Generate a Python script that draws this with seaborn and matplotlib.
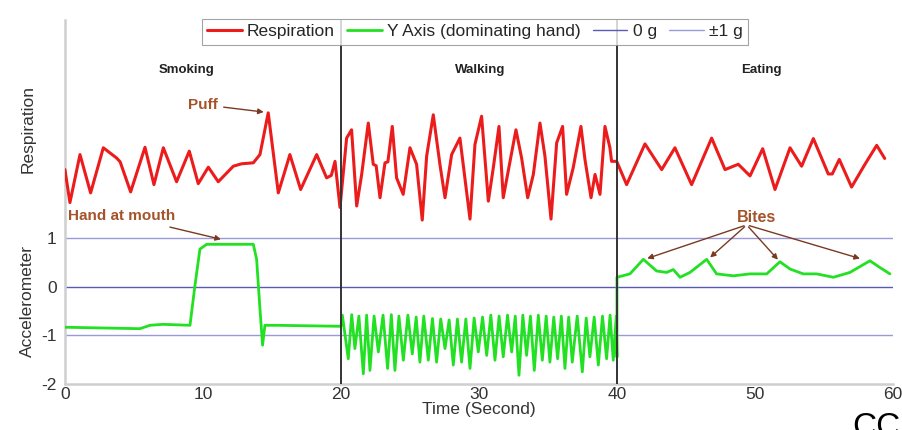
import numpy as np
import pandas as pd
import matplotlib
matplotlib.use("Agg")
import matplotlib.pyplot as plt
import seaborn as sns

# ---------------- data ----------------
# Respiration trace (seconds, plotted on the shared vertical scale, offset above the accelerometer)
resp_t = [0.0, 0.36, 1.09, 1.86, 2.78, 3.74, 4.0, 4.76, 5.80, 6.45, 7.13, 8.09, 9.01, 9.66,
          10.39, 11.11, 12.20, 12.80, 13.65, 14.13, 14.73, 15.46, 16.30, 17.08, 18.24, 18.96,
          19.30, 19.57, 19.93,
          20.41, 20.77, 21.14, 21.50, 21.98, 22.34, 22.55, 22.83, 23.19, 23.40, 23.72, 24.03,
          24.51, 25.00, 25.48, 25.89, 26.21, 26.69, 27.17, 27.54, 28.02, 28.62, 29.35, 29.71,
          30.19, 30.68, 31.04, 31.45, 31.76, 32.12, 32.68, 33.09, 33.53, 33.94, 34.42, 34.78,
          35.22, 35.63, 36.06, 36.35, 36.83, 37.39, 37.68, 38.12, 38.41, 38.77, 39.13, 39.49,
          39.61, 39.98,
          40.70, 42.03, 43.24, 44.20, 45.41, 46.86, 47.83, 48.79, 49.64, 50.56, 51.45, 52.54,
          53.38, 54.23, 55.31, 55.60, 56.11, 57.00, 57.97, 58.82, 59.40]
resp_y = [2.42, 1.74, 2.73, 1.94, 2.87, 2.66, 2.58, 1.96, 2.88, 2.11, 2.87, 2.17, 2.80, 2.13,
          2.47, 2.17, 2.49, 2.54, 2.56, 2.73, 3.59, 1.94, 2.73, 2.01, 2.73, 2.25,
          2.30, 2.59, 1.64,
          3.07, 3.24, 1.67, 2.32, 3.38, 2.53, 2.50, 1.84, 2.56, 2.58, 3.31, 2.25,
          1.91, 2.87, 2.53, 1.38, 2.70, 3.55, 2.53, 1.84, 2.73, 3.07, 1.40, 2.94,
          3.52, 1.77, 2.46, 3.31, 1.84, 2.39, 3.24, 2.66, 1.84, 2.32, 3.38, 2.70,
          1.40, 2.97, 3.31, 1.91, 2.46, 3.31, 2.63, 1.84, 2.32, 1.91, 3.31, 2.87,
          2.59, 2.59,
          2.11, 2.95, 2.42, 2.87, 2.11, 3.07, 2.42, 2.53, 2.29, 2.85, 2.01, 2.87,
          2.49, 3.06, 2.33, 2.33, 2.63, 2.06, 2.53, 2.92, 2.65]

# Accelerometer, Y axis of the dominating hand (g)
acc_t = [0.0, 5.43, 6.16, 7.10, 9.06, 9.42, 9.78, 10.27, 13.65, 13.89, 14.13, 14.32, 14.49,
         15.34, 19.80, 20.00,
         20.10, 20.53, 20.78, 21.01, 21.30, 21.62, 21.86, 22.10, 22.40, 22.71, 23.05, 23.38,
         23.65, 23.91, 24.20, 24.52, 24.85, 25.17, 25.45, 25.72, 26.00, 26.33, 26.63, 26.93,
         27.23, 27.54, 27.84, 28.14, 28.44, 28.74, 29.05, 29.35, 29.65, 29.95, 30.26, 30.56,
         30.86, 31.16, 31.46, 31.76, 32.07, 32.37, 32.63, 32.90, 33.18, 33.45, 33.73, 34.01,
         34.30, 34.59, 34.87, 35.14, 35.42, 35.70, 35.97, 36.23, 36.50, 36.76, 37.12, 37.49,
         37.77, 38.04, 38.35, 38.65, 38.95, 39.25, 39.50, 39.73, 39.95, 40.00,
         40.00, 40.94, 41.91, 42.87, 43.60, 44.08, 44.57, 45.29, 46.50, 47.22, 48.43, 49.64,
         50.85, 51.81, 52.54, 53.50, 54.47, 55.68, 56.88, 58.33, 59.06, 59.78]
acc_y = [-0.83, -0.86, -0.79, -0.77, -0.79, 0.03, 0.78, 0.88, 0.88, 0.57, -0.45, -1.20, -0.79,
         -0.79, -0.81, -0.81,
         -0.58, -1.48, -0.57, -1.27, -0.60, -1.79, -0.58, -1.72, -0.60, -1.34, -0.58, -1.68,
         -0.57, -1.72, -0.60, -1.51, -0.58, -1.38, -0.62, -1.55, -0.60, -1.51, -0.65, -1.55,
         -0.66, -1.27, -0.68, -1.61, -0.66, -1.55, -0.66, -1.68, -0.64, -1.34, -0.62, -1.41,
         -0.58, -1.51, -0.60, -1.44, -0.58, -1.34, -0.60, -1.82, -0.58, -1.41, -0.60, -1.72,
         -0.58, -1.51, -0.60, -1.55, -0.62, -1.48, -0.60, -1.68, -0.62, -1.55, -0.60, -1.75,
         -0.64, -1.44, -0.62, -1.61, -0.60, -1.48, -0.58, -1.51, -0.60, -1.45,
         0.20, 0.27, 0.57, 0.33, 0.30, 0.36, 0.20, 0.30, 0.57, 0.27, 0.23, 0.27,
         0.27, 0.52, 0.37, 0.27, 0.27, 0.20, 0.30, 0.54, 0.40, 0.27]

activity_names = ["Smoking", "Walking", "Eating"]
activity_x = [8.8, 30.1, 50.5]
boundaries = [20, 40]
bite_t = [42.0, 46.6, 51.8, 57.8]
bite_y = [0.57, 0.57, 0.52, 0.57]
x_ticks = [0, 10, 20, 30, 40, 50, 60]
y_ticks = [-2, -1, 0, 1]

# ---------------- style ----------------
sns.set_theme(style="white")
plt.rcParams["font.family"] = ["Liberation Sans", "DejaVu Sans"]
plt.rcParams["axes.unicode_minus"] = False

fig = plt.figure(figsize=(9.02, 4.30), dpi=100)
ax = fig.add_axes([0.072, 0.107, 0.918, 0.846])

red = "#ec1c1c"
green = "#22e022"
brown = "#a4532a"

resp_df = pd.DataFrame({"t": resp_t, "v": resp_y})
acc_df = pd.DataFrame({"t": acc_t, "v": acc_y})
sns.lineplot(data=resp_df, x="t", y="v", ax=ax, color=red, lw=2.2, sort=False,
             estimator=None, label="Respiration", zorder=3)
sns.lineplot(data=acc_df, x="t", y="v", ax=ax, color=green, lw=2.0, sort=False,
             estimator=None, label="Y Axis (dominating hand)", zorder=3)

ax.axhline(0, color="#5a5ab4", lw=1.0, label="0 g", zorder=1)
ax.axhline(1, color="#9a9ad8", lw=1.0, label="\u00b11 g", zorder=1)
ax.axhline(-1, color="#9a9ad8", lw=1.0, zorder=1)

for b in boundaries:
    ax.axvline(b, color="#333333", lw=1.4, zorder=4)

ax.set_xlim(0, 60)
ax.set_ylim(-2, 5.5)
ax.set_xticks(x_ticks)
ax.set_yticks(y_ticks)
ax.tick_params(axis="both", labelsize=12.5, colors="#333333", direction="in", length=4,
               pad=2)
ax.tick_params(axis="y", length=0, pad=6)
for s in ["top", "right"]:
    ax.spines[s].set_visible(False)
for s in ["left", "bottom"]:
    ax.spines[s].set_color("#cfcfcf")
    ax.spines[s].set_linewidth(1.8)
ax.set_xlabel("Time (Second)", fontsize=12.5, color="#333333", labelpad=0)
ax.set_ylabel("")

fig.text(0.031, 0.70, "Respiration", rotation=90, ha="center", va="center",
         fontsize=12.5, color="#333333")
fig.text(0.031, 0.30, "Accelerometer", rotation=90, ha="center", va="center",
         fontsize=12.5, color="#333333")

for name, x in zip(activity_names, activity_x):
    ax.text(x, 4.48, name, ha="center", va="center", fontsize=9.5, fontweight="bold",
            color="#222222")

arrow = dict(arrowstyle="-|>", color="#7a3a22", lw=1.0, mutation_scale=8)
ax.annotate("Puff", xy=(14.6, 3.6), xytext=(8.9, 3.76), ha="left", va="center",
            fontsize=11, fontweight="bold", color=brown, arrowprops=arrow)
ax.annotate("Hand at mouth", xy=(11.5, 0.97), xytext=(0.2, 1.46), ha="left", va="center",
            fontsize=11, fontweight="bold", color=brown,
            arrowprops=dict(arrow, relpos=(0.8, 0.0)))
ax.text(50.1, 1.44, "Bites", ha="center", va="center", fontsize=11.5, fontweight="bold",
        color=brown)
for bt, by in zip(bite_t, bite_y):
    ax.annotate("", xy=(bt, by), xytext=(49.4, 1.28), arrowprops=arrow)

handles, labels = ax.get_legend_handles_labels()
order = [labels.index(l) for l in ["Respiration", "Y Axis (dominating hand)", "0 g", "\u00b11 g"]]
leg = ax.legend([handles[i] for i in order], [labels[i] for i in order],
                loc="upper center", bbox_to_anchor=(0.495, 1.003), ncol=4, fontsize=12.5,
                frameon=True, fancybox=False, handlelength=2.0, handletextpad=0.3,
                columnspacing=0.7, borderpad=0.3, borderaxespad=0.0)
leg.get_frame().set_edgecolor("#8c8c8c")
leg.get_frame().set_linewidth(0.8)
leg.set_zorder(6)

fig.text(0.945, -0.03, "CC", fontsize=24, color="black", ha="left", va="bottom")

fig.savefig("out.png", dpi=100)
